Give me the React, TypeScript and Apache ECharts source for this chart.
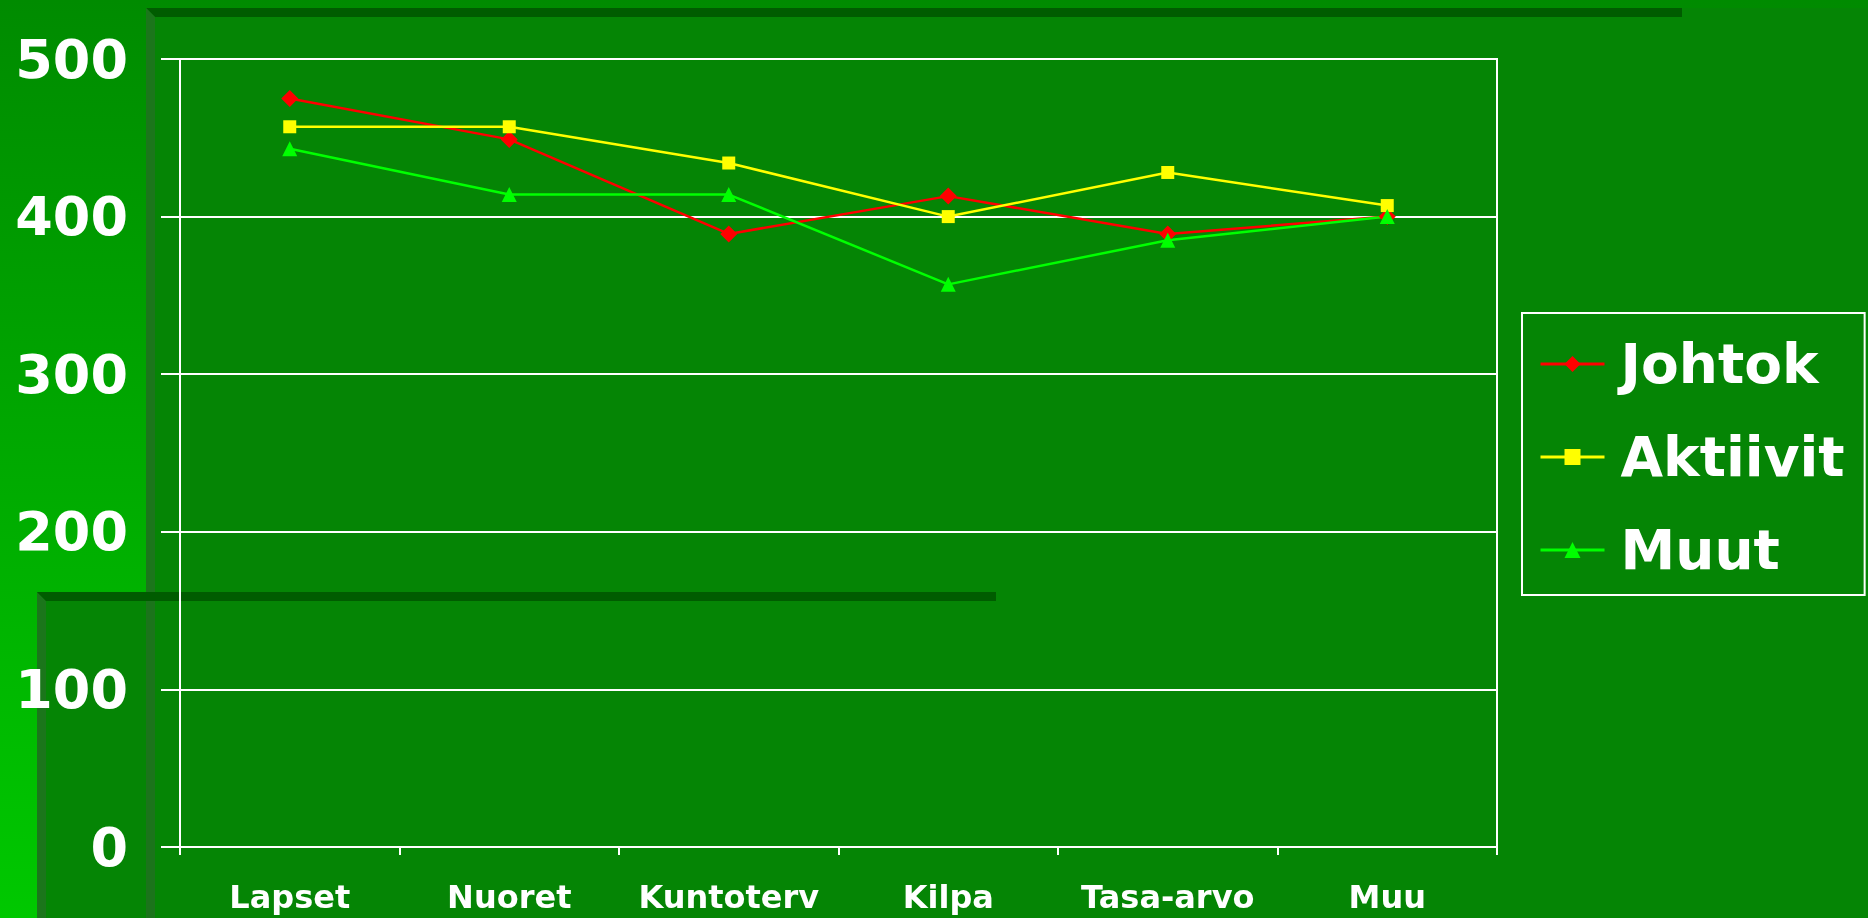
import React, { useEffect, useRef } from "react";
import * as echarts from "echarts";

const categories = ["Lapset", "Nuoret", "Kuntoterv", "Kilpa", "Tasa-arvo", "Muu"];
const johtok = [475, 449, 389, 413, 389, 400];
const aktiivit = [457, 457, 434, 400, 428, 407];
const muut = [443, 414, 414, 357, 385, 400];
const yTicks = { min: 0, max: 500, interval: 100 };

const FONT = "DejaVu Sans";
const TEX = "#058505";

export default function App() {
  const ref = useRef<HTMLDivElement>(null);
  useEffect(() => {
    document.body.style.margin = "0";
    const chart = echarts.init(ref.current!, null, { renderer: "svg" });
    const bg = [
      {
        type: "rect",
        z: -100,
        shape: { x: 0, y: 0, width: 1868, height: 918 },
        style: {
          fill: new echarts.graphic.LinearGradient(0, 0, 0, 1, [
            { offset: 0, color: "#008b00" },
            { offset: 1, color: "#00c800" },
          ]),
        },
      },
      { type: "rect", z: -99, shape: { x: 146, y: 8, width: 1722, height: 910 }, style: { fill: TEX } },
      { type: "polygon", z: -98, shape: { points: [[146, 8], [1682, 8], [1682, 17], [155, 17]] }, style: { fill: "#005c00" } },
      { type: "polygon", z: -98, shape: { points: [[146, 8], [155, 17], [155, 918], [146, 918]] }, style: { fill: "#1b761b" } },
      { type: "rect", z: -97, shape: { x: 37, y: 592, width: 1831, height: 326 }, style: { fill: TEX } },
      { type: "rect", z: -96, shape: { x: 146, y: 601, width: 9, height: 317 }, style: { fill: "#1b741b" } },
      { type: "polygon", z: -96, shape: { points: [[37, 592], [46, 601], [46, 918], [37, 918]] }, style: { fill: "#1b761b" } },
      { type: "polygon", z: -95, shape: { points: [[37, 592], [996, 592], [996, 601], [46, 601]] }, style: { fill: "#005c00" } },
    ];
    const mk = (name: string, data: number[], color: string, symbol: string, size: number) => ({
      name,
      type: "line",
      data,
      symbol,
      symbolSize: size,
      itemStyle: { color },
      lineStyle: { color, width: 2.5 },
    });
    chart.setOption({
      animation: false,
      graphic: { elements: bg },
      grid: {
        left: 180,
        top: 59,
        right: 371,
        bottom: 71,
        show: true,
        borderColor: "#ffffff",
        borderWidth: 2,
        backgroundColor: "transparent",
      },
      legend: {
        orient: "vertical",
        left: 1522,
        top: 313,
        itemWidth: 64,
        itemHeight: 20,
        itemGap: 37,
        padding: [23, 20, 17, 17],
        borderColor: "#ffffff",
        borderWidth: 2,
        lineStyle: { width: 3 },
        textStyle: {
          color: "#ffffff",
          fontFamily: FONT,
          fontWeight: "bold",
          fontSize: 55,
          lineHeight: 56,
          padding: [0, 0, 0, 11],
        },
        data: ["Johtok", "Aktiivit", "Muut"],
      },
      xAxis: {
        type: "category",
        data: categories,
        axisLine: { lineStyle: { color: "#ffffff", width: 2 } },
        axisTick: { show: true, interval: 0, length: 8, lineStyle: { color: "#ffffff", width: 2 } },
        axisLabel: {
          interval: 0,
          color: "#ffffff",
          fontFamily: FONT,
          fontWeight: "bold",
          fontSize: 32,
          margin: 34,
        },
        splitLine: { show: false },
      },
      yAxis: {
        type: "value",
        min: yTicks.min,
        max: yTicks.max,
        interval: yTicks.interval,
        axisLine: { show: true, lineStyle: { color: "#ffffff", width: 2 } },
        axisTick: { show: true, inside: false, length: 19, lineStyle: { color: "#ffffff", width: 2 } },
        axisLabel: {
          color: "#ffffff",
          fontFamily: FONT,
          fontWeight: "bold",
          fontSize: 54,
          margin: 52,
        },
        splitLine: { show: true, lineStyle: { color: "#ffffff", width: 2 } },
      },
      series: [
        mk("Johtok", johtok, "#ff0000", "diamond", 17),
        mk("Aktiivit", aktiivit, "#ffff00", "rect", 13),
        mk("Muut", muut, "#00ff00", "triangle", 15),
      ],
    });
    return () => chart.dispose();
  }, []);
  return <div ref={ref} style={{ position: "fixed", left: 0, top: 0, width: 1868, height: 918 }} />;
}
